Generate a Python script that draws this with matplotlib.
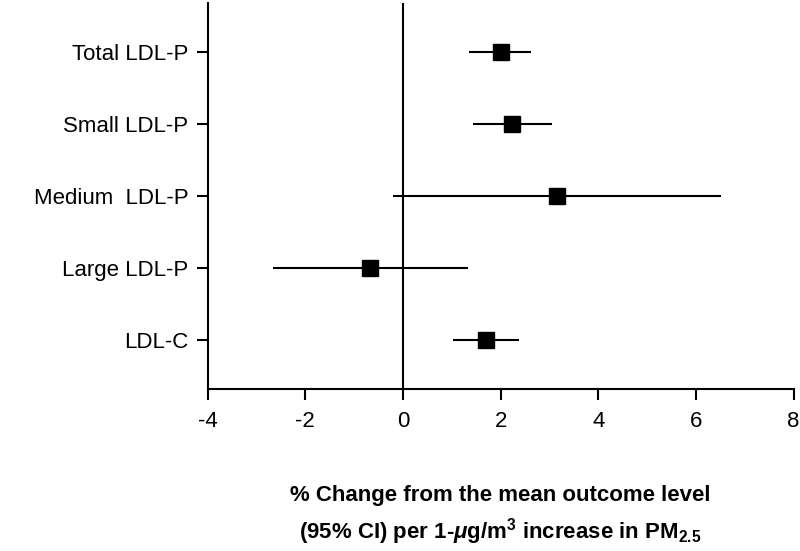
import numpy as np
import matplotlib.pyplot as plt

# Оцінки та 95% ДІ (% зміни на 1 мкг/м3 PM2.5)
outcomes = ['Total LDL-P', 'Small LDL-P', 'Medium  LDL-P', 'Large LDL-P', 'LDL-C']
estimate = [2.00, 2.23, 3.15, -0.67, 1.70]
ci_low = [1.36, 1.43, -0.20, -2.67, 1.03]
ci_high = [2.63, 3.05, 6.51, 1.33, 2.38]
xticks = [-4, -2, 0, 2, 4, 6, 8]

plt.rcParams['font.family'] = ['Liberation Sans', 'DejaVu Sans']
plt.rcParams['mathtext.fontset'] = 'custom'
plt.rcParams['mathtext.rm'] = 'Liberation Sans:bold'
plt.rcParams['mathtext.it'] = 'Liberation Sans:italic:bold'
plt.rcParams['mathtext.bf'] = 'Liberation Sans:bold'

fig = plt.figure(figsize=(8, 5.51), dpi=100)
ax = fig.add_axes([0.2595, 0.294, 0.7325, 0.7006])

ypos = np.arange(len(outcomes))[::-1] + 1
est = np.array(estimate)
err = np.vstack([est - np.array(ci_low), np.array(ci_high) - est])

ax.axvline(0, color='black', lw=1.5, zorder=1)
ax.errorbar(est, ypos, xerr=err, fmt='s', color='black', ecolor='black',
            elinewidth=1.5, capsize=0, markersize=11, zorder=3)

ax.set_xlim(-4, 8)
ax.set_ylim(0.325, 5.675)
ax.set_xticks(xticks)
ax.set_xticklabels([str(t) for t in xticks])
ax.set_yticks(ypos)
ax.set_yticklabels(outcomes)

for s in ['top', 'right']:
    ax.spines[s].set_visible(False)
for s in ['left', 'bottom']:
    ax.spines[s].set_linewidth(1.5)

ax.tick_params(axis='both', direction='out', length=8, width=1.5, labelsize=16)
ax.tick_params(axis='y', pad=6)
ax.tick_params(axis='x', pad=8)

fig.text(0.6256, 0.1, '% Change from the mean outcome level',
         ha='center', va='center', fontsize=16, fontweight='bold')
fig.text(0.6256, 0.036, r'(95% CI) per 1-$\mu$g/m$^{3}$ increase in PM$_{2.5}$',
         ha='center', va='center', fontsize=16, fontweight='bold')

fig.savefig('out.png', dpi=100)
